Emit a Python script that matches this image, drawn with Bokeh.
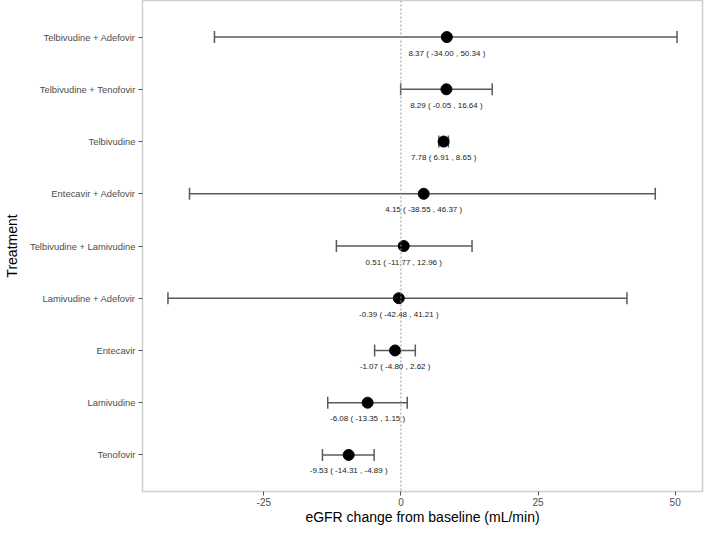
from bokeh.plotting import figure
from bokeh.models import FactorRange, Range1d, FixedTicker, Whisker, TeeHead, ColumnDataSource, Span
from bokeh.core.properties import value
from bokeh.embed import file_html
from bokeh.resources import INLINE

# Data (bottom to top)
treatments = ["Tenofovir", "Lamivudine", "Entecavir", "Lamivudine + Adefovir",
              "Telbivudine + Lamivudine", "Entecavir + Adefovir", "Telbivudine",
              "Telbivudine + Tenofovir", "Telbivudine + Adefovir"]
estimate = [-9.53, -6.08, -1.07, -0.39, 0.51, 4.15, 7.78, 8.29, 8.37]
lower = [-14.31, -13.35, -4.80, -42.48, -11.77, -38.55, 6.91, -0.05, -34.00]
upper = [-4.89, 1.15, 2.62, 41.21, 12.96, 46.37, 8.65, 16.64, 50.34]
x_ticks = [-25, 0, 25, 50]

labels = ["%.2f ( %.2f , %.2f )" % (e, l, u) for e, l, u in zip(estimate, lower, upper)]
src = ColumnDataSource(dict(t=treatments, est=estimate, lo=lower, hi=upper, lab=labels))

FONT = "Liberation Sans"

p = figure(width=704, height=527, output_backend="svg", toolbar_location=None,
           y_range=FactorRange(factors=treatments, range_padding=0.2, range_padding_units="absolute"),
           x_range=Range1d(-47.12, 54.98),
           min_border_left=130, min_border_right=2, min_border_top=0, min_border_bottom=30)

p.background_fill_color = "white"
p.outline_line_color = "#cfcfcf"
p.outline_line_width = 1.5
p.xgrid.visible = False
p.ygrid.visible = False

zero = Span(location=0, dimension="height", line_color="#999999", line_dash="2 2", line_width=1)
p.add_layout(zero)

w = Whisker(source=src, base="t", lower="lo", upper="hi", dimension="width",
            line_color="#5a5a5a", line_width=1.5,
            lower_head=TeeHead(size=12, line_color="#5a5a5a", line_width=1.5),
            upper_head=TeeHead(size=12, line_color="#5a5a5a", line_width=1.5))
p.add_layout(w)

p.scatter(x="est", y="t", source=src, size=11, color="black")
p.text(x="est", y="t", text="lab", source=src, text_align="center", text_baseline="middle",
       y_offset=16, text_font_size="8px", text_font=value(FONT), text_color="#222222")

p.xaxis.ticker = FixedTicker(ticks=x_ticks)
p.xaxis.major_label_overrides = {t: str(t) for t in x_ticks}
p.xaxis.axis_label = "eGFR change from baseline (mL/min)"
p.yaxis.axis_label = "Treatment"
for ax in (p.xaxis[0], p.yaxis[0]):
    ax.axis_line_color = None
    ax.major_tick_line_color = "#555555"
    ax.major_tick_in = 0
    ax.major_tick_out = 4
    ax.minor_tick_line_color = None
    ax.major_label_text_font = FONT
    ax.major_label_text_font_size = "10px"
    ax.major_label_text_color = "#4d4d4d"
    ax.axis_label_text_font = FONT
    ax.axis_label_text_font_size = "14px"
    ax.axis_label_text_font_style = "normal"
    ax.axis_label_text_color = "black"
    ax.major_label_standoff = 3
p.yaxis.major_label_text_font_size = "9.4px"
p.yaxis.axis_label_standoff = 7
p.xaxis.axis_label_standoff = 0
p.xaxis.major_label_standoff = 2

open("out.html", "w").write(file_html(p, INLINE))
